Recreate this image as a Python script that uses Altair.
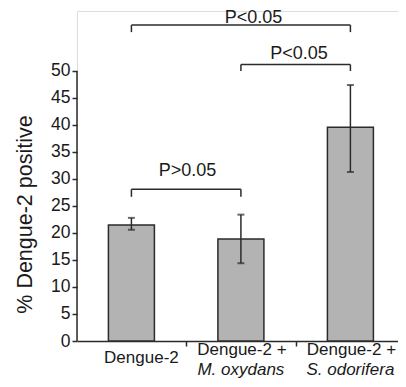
import altair as alt
import pandas as pd

# ---- data ----
positions = [1, 2, 3]
label_line1 = ["Dengue-2", "Dengue-2 +", "Dengue-2 +"]
label_line2 = ["", "M. oxydans", "S. odorifera"]
means = [21.5, 18.9, 39.6]
err_low = [20.6, 14.4, 31.3]
err_high = [22.8, 23.4, 47.4]

# significance brackets: left pos, right pos, bar height, leg bottom, label, label x, label baseline
br_x1 = [1, 2, 1]
br_x2 = [3, 3, 2]
br_y = [58.5, 51.2, 28.1]
br_leg = [57.2, 50.0, 26.7]
br_text = ["P<0.05", "P<0.05", "P>0.05"]
br_tx = [2.115, 2.53, 1.513]
br_ty = [58.9, 52.2, 30.5]

y_ticks = [0, 5, 10, 15, 20, 25, 30, 35, 40, 45, 50]
x_dividers = [1.5, 2.5]

FONT = "Liberation Sans"
DARK = "#2b2b2b"
TXT = "#1a1a1a"

bars = pd.DataFrame({"pos": positions, "mean": means, "lo": err_low, "hi": err_high,
                     "l1": label_line1, "l2": label_line2})
brk = pd.DataFrame({"x1": br_x1, "x2": br_x2, "y": br_y, "leg": br_leg,
                    "t": br_text, "tx": br_tx, "ty": br_ty})

X_DOM = [0.5487, 3.389]
Y_DOM = [0, 61.11]

XS = alt.Scale(domain=X_DOM, nice=False, zero=False)
YS = alt.Scale(domain=Y_DOM, nice=False, zero=False)

X_AXIS = alt.Axis(values=x_dividers, labels=False, title=None, grid=False, tickSize=5,
                  tickColor=DARK, domainColor=DARK, domainWidth=1.5, tickWidth=1.5)
Y_AXIS = alt.Axis(values=y_ticks, domain=False, grid=False, tickSize=5, tickColor=DARK,
                  tickWidth=1.5, labelFont=FONT, labelFontSize=17.5, labelColor=TXT,
                  labelPadding=2, labelOverlap=False,
                  title="% Dengue-2 positive", titleFont=FONT, titleFontSize=21.5,
                  titleFontWeight="normal", titleColor=TXT, titleY=203, titlePadding=14)


def X(field):
    return alt.X(field, scale=XS, axis=X_AXIS)


def Y(field):
    return alt.Y(field, scale=YS, axis=Y_AXIS)


base = alt.Chart(bars)

bar_layer = base.mark_bar(size=46, color="#b3b3b3", stroke=DARK, strokeWidth=1.5).encode(
    x=X("pos:Q"), y=Y("mean:Q"))

err_rule = base.mark_rule(color=DARK, strokeWidth=1.5).encode(
    x=X("pos:Q"), y=Y("lo:Q"), y2="hi:Q")
err_cap_hi = base.mark_tick(color=DARK, thickness=2, size=7, orient="horizontal").encode(
    x=X("pos:Q"), y=Y("hi:Q"))
err_cap_lo = base.mark_tick(color=DARK, thickness=2, size=7, orient="horizontal").encode(
    x=X("pos:Q"), y=Y("lo:Q"))

y_axis_line = alt.Chart(pd.DataFrame({"a": [0], "b": [50]})).mark_rule(
    color=DARK, strokeWidth=1.5).encode(x=alt.value(0), y=Y("a:Q"), y2="b:Q")

lab_single = alt.Chart(bars[bars["l2"] == ""]).mark_text(
    font=FONT, fontSize=17, color=TXT, baseline="alphabetic", dx=10).encode(
    x=X("pos:Q"), y=alt.value(352), text="l1:N")
lab_line1 = alt.Chart(bars[bars["l2"] != ""]).mark_text(
    font=FONT, fontSize=17, color=TXT, baseline="alphabetic", dx=1).encode(
    x=X("pos:Q"), y=alt.value(344), text="l1:N")
lab_line2 = alt.Chart(bars[bars["l2"] != ""]).mark_text(
    font=FONT, fontSize=17, color=TXT, baseline="alphabetic", fontStyle="italic").encode(
    x=X("pos:Q"), y=alt.value(364), text="l2:N")

bk = alt.Chart(brk)
br_h = bk.mark_rule(color=DARK, strokeWidth=1.5).encode(x=X("x1:Q"), x2="x2:Q", y=Y("y:Q"))
br_l = bk.mark_rule(color=DARK, strokeWidth=1.5).encode(x=X("x1:Q"), y=Y("leg:Q"), y2="y:Q")
br_r = bk.mark_rule(color=DARK, strokeWidth=1.5).encode(x=X("x2:Q"), y=Y("leg:Q"), y2="y:Q")
br_t = bk.mark_text(font=FONT, fontSize=18, color=TXT, baseline="alphabetic").encode(
    x=X("tx:Q"), y=Y("ty:Q"), text="t:N")

chart = alt.layer(
    bar_layer, err_rule, err_cap_hi, err_cap_lo, y_axis_line,
    lab_single, lab_line1, lab_line2, br_h, br_l, br_r, br_t
).properties(
    width=321, height=330,
    autosize=alt.AutoSizeParams(type="none"),
    padding={"left": 69, "top": 3, "right": 0, "bottom": 38},
).configure_view(stroke=None).configure(background="white")

chart.save("out.html", embed_options={"renderer": "svg", "actions": False})
